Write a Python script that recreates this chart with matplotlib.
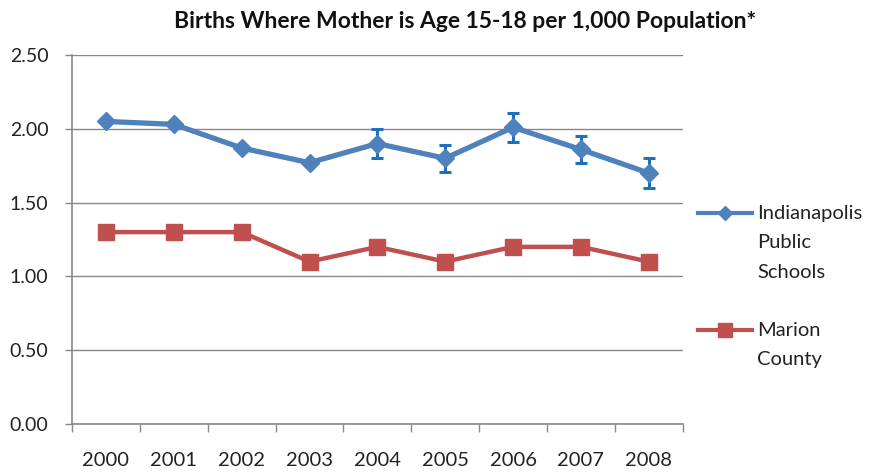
import numpy as np
import matplotlib.pyplot as plt
from matplotlib.lines import Line2D

years = ['2000', '2001', '2002', '2003', '2004', '2005', '2006', '2007', '2008']
ips = [2.05, 2.03, 1.87, 1.77, 1.90, 1.80, 2.01, 1.86, 1.70]
ips_err = [0, 0, 0, 0, 0.10, 0.09, 0.10, 0.09, 0.10]
marion = [1.30, 1.30, 1.30, 1.10, 1.20, 1.10, 1.20, 1.20, 1.10]
yticks = [0.0, 0.5, 1.0, 1.5, 2.0, 2.5]
legend_labels = [['Indianapolis', 'Public', 'Schools'], ['Marion', 'County']]

BLUE = '#4f81bd'
RED = '#c0504d'
GRAY = '#888888'

plt.rcParams['font.family'] = ['Lato', 'DejaVu Sans']

fig = plt.figure(figsize=(8.73, 4.72), dpi=100)
W, H = 873, 472
ax = fig.add_axes([0.0825, 0.1017, 0.6995, 0.7818])

x = np.arange(len(years))
ax.errorbar(x, ips, yerr=ips_err, fmt='none', ecolor='#1f6fbf',
            elinewidth=2.2, capsize=4, capthick=2.2, zorder=3)
ax.plot(x, ips, color=BLUE, lw=3.8, marker='D', ms=9, zorder=4)
ax.plot(x, marion, color=RED, lw=3.2, marker='s', ms=11, zorder=4)

ax.set_xlim(-0.5, len(years) - 0.5)
ax.set_ylim(0, 2.5)
ax.set_yticks(yticks)
ax.set_yticklabels([f'{v:.2f}' for v in yticks], fontsize=14, color='#222222')
ax.set_xticks(x)
ax.set_xticklabels(years, fontsize=14.5, color='#222222')
ax.tick_params(axis='x', length=0, pad=20)
ax.set_xticks(np.arange(-0.5, len(years)), minor=True)
ax.tick_params(axis='x', which='minor', length=6, color=GRAY, width=1)
ax.tick_params(axis='y', length=5, color=GRAY, width=1, pad=12)

ax.grid(axis='y', color=GRAY, lw=1)
ax.set_axisbelow(True)
for s in ['top', 'right']:
    ax.spines[s].set_visible(False)
for s in ['left', 'bottom']:
    ax.spines[s].set_color(GRAY)
    ax.spines[s].set_linewidth(1.2)

fig.text(465 / W, 1 - 22 / H, 'Births Where Mother is Age 15-18 per 1,000 Population*',
         fontsize=16.5, fontweight='bold', ha='center', va='center', color='#111111')

# legend drawn by hand so the key sits beside the first text line
entries = [(BLUE, 'D', 7, 3.0, 213), (RED, 's', 10, 3.0, 330)]
for (color, mk, ms, lw, ypx), lines in zip(entries, legend_labels):
    fy = 1 - ypx / H
    fig.add_artist(Line2D([698 / W, 752 / W], [fy, fy], color=color, lw=lw,
                          transform=fig.transFigure))
    fig.add_artist(Line2D([725 / W], [fy], color=color, marker=mk, ms=ms,
                          transform=fig.transFigure))
    for i, t in enumerate(lines):
        fig.text(757 / W, 1 - (ypx + 30 * i) / H, t, fontsize=14.5,
                 ha='left', va='center', color='#222222')

fig.savefig('out.png', dpi=100)
